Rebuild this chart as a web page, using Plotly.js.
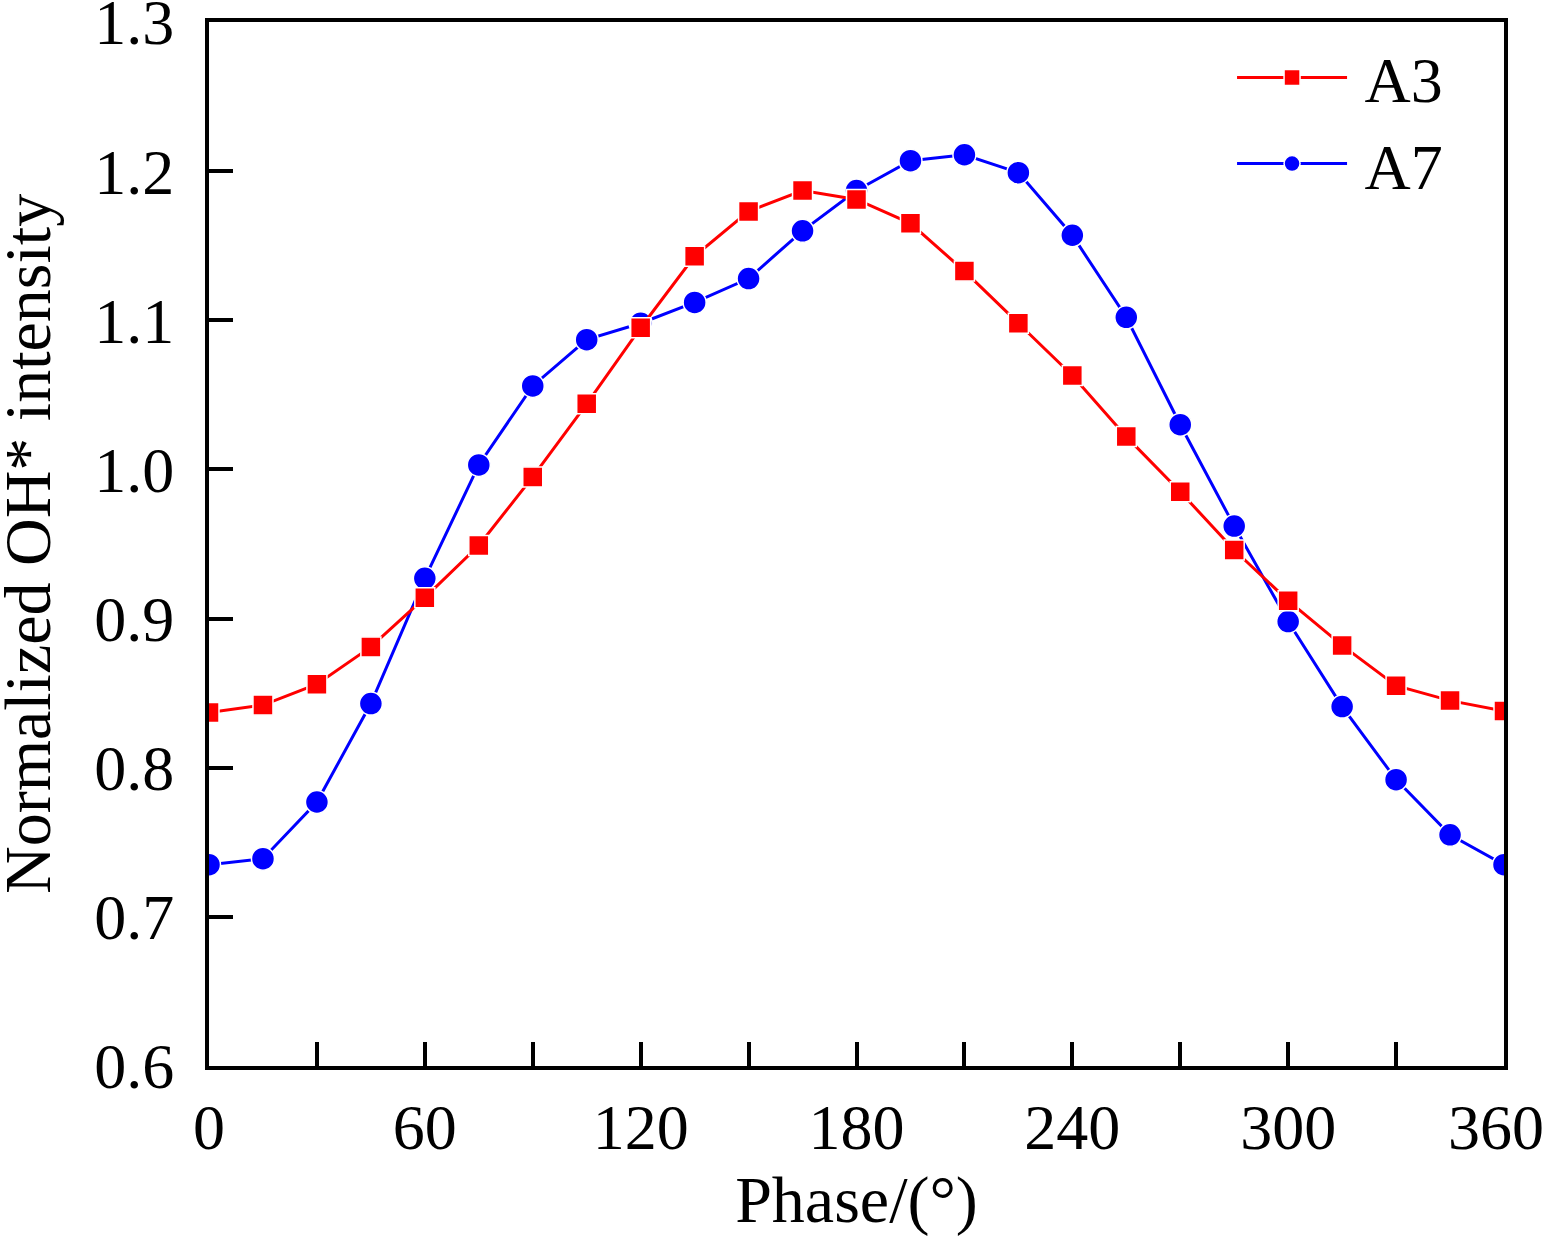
<!DOCTYPE html>
<html>
<head>
<meta charset="utf-8">
<script src="https://cdn.plot.ly/plotly-3.0.1.min.js"></script>
<style>
  html, body { margin: 0; padding: 0; background: #ffffff; }
  #plot { width: 1544px; height: 1248px; }
</style>
</head>
<body>
<div id="plot"></div>
<script>
// phase angle, degrees
const phase = [0, 15, 30, 45, 60, 75, 90, 105, 120, 135, 150, 165, 180,
               195, 210, 225, 240, 255, 270, 285, 300, 315, 330, 345, 360]

// normalized OH* intensity
const a3 = [0.837, 0.842, 0.856, 0.881, 0.914, 0.949, 0.995, 1.044, 1.095, 1.143, 1.173, 1.187, 1.181,
            1.165, 1.133, 1.098, 1.063, 1.022, 0.985, 0.946, 0.912, 0.882, 0.855, 0.845, 0.838]
const a7 = [0.735, 0.739, 0.777, 0.843, 0.927, 1.003, 1.056, 1.087, 1.098, 1.112, 1.128, 1.160, 1.187,
            1.207, 1.211, 1.199, 1.157, 1.102, 1.030, 0.962, 0.898, 0.841, 0.792, 0.755, 0.735]

const xTickVals = [0, 30, 60, 90, 120, 150, 180, 210, 240, 270, 300, 330, 360]
// last label nudged left a little so it stays inside the picture
const xTickText = xTickVals.map(v => v % 60 === 0 ? (v === 360 ? "360\u00a0" : String(v)) : "")
const yTickVals = [0.6, 0.7, 0.8, 0.9, 1.0, 1.1, 1.2, 1.3]

const fontFamily = "Liberation Serif, Times New Roman, serif"

// A7 first so the red squares sit on top, legend reversed to list A3 first
const data = [
    {
        type: "scatter",
        mode: "lines+markers",
        name: " A7",
        x: phase,
        y: a7,
        line: { color: "#0000ff", width: 3 },
        marker: { symbol: "circle", size: 23, color: "#0000ff", line: { color: "#ffffff", width: 1.5 } }
    },
    {
        type: "scatter",
        mode: "lines+markers",
        name: " A3",
        x: phase,
        y: a3,
        line: { color: "#ff0000", width: 3 },
        marker: { symbol: "square", size: 20, color: "#ff0000", line: { color: "#ffffff", width: 1.5 } }
    }
]

const axisCommon = {
    showline: true,
    mirror: true,
    linecolor: "#000000",
    linewidth: 4,
    ticks: "inside",
    ticklen: 24,
    tickwidth: 4,
    tickcolor: "#000000",
    showgrid: false,
    zeroline: false,
    ticklabeloverflow: "allow",
    tickfont: { family: fontFamily, size: 64, color: "#000000" }
}

const layout = {
    width: 1544,
    height: 1248,
    margin: { l: 209, r: 40, t: 22, b: 182 },
    paper_bgcolor: "#ffffff",
    plot_bgcolor: "#ffffff",
    font: { family: fontFamily, color: "#000000" },
    showlegend: true,
    legend: {
        x: 0.79,
        y: 0.993,
        xanchor: "left",
        yanchor: "top",
        traceorder: "reversed",
        itemwidth: 110,
        tracegroupgap: 0,
        bgcolor: "rgba(0,0,0,0)",
        font: { family: fontFamily, size: 64, color: "#000000" }
    },
    xaxis: Object.assign({}, axisCommon, {
        range: [0, 360],
        tickmode: "array",
        tickvals: xTickVals,
        ticktext: xTickText,
        ticklabelstandoff: 2,
        title: { text: "Phase/(°)", font: { family: fontFamily, size: 66, color: "#000000" }, standoff: 14 }
    }),
    yaxis: Object.assign({}, axisCommon, {
        range: [0.6, 1.3],
        tickmode: "array",
        tickvals: yTickVals,
        tickformat: ".1f",
        ticklabelstandoff: 18
    }),
    // y title as an annotation so it can sit close to the left edge like the original
    annotations: [
        {
            text: "Normalized OH* intensity",
            xref: "paper",
            yref: "paper",
            x: 0,
            y: 0.5,
            xanchor: "center",
            yanchor: "middle",
            xshift: -182,
            textangle: -90,
            showarrow: false,
            font: { family: fontFamily, size: 66, color: "#000000" }
        }
    ]
}

Plotly.newPlot("plot", data, layout, { displayModeBar: false, responsive: false })
</script>
</body>
</html>
